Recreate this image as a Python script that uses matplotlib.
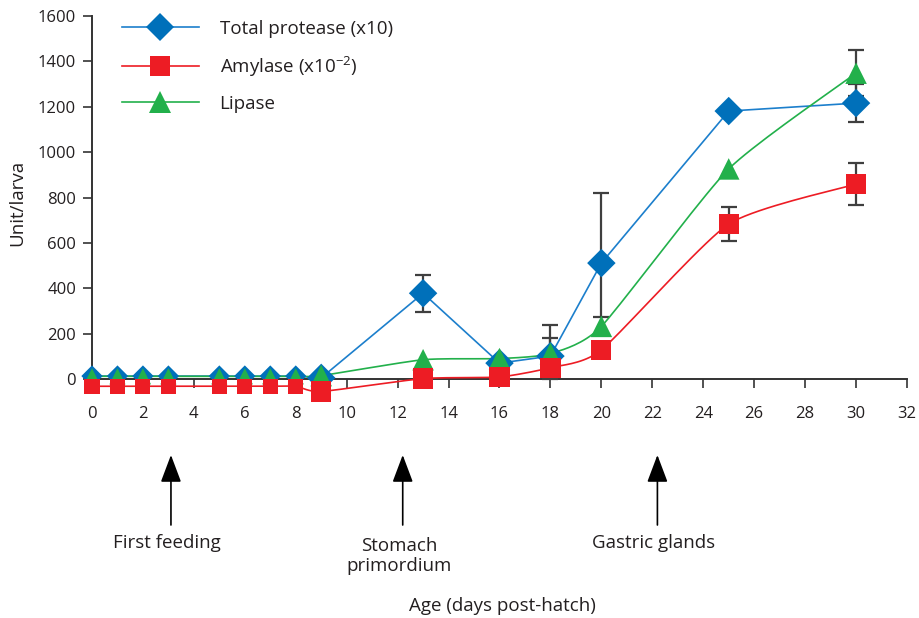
import numpy as np
import matplotlib
matplotlib.use("Agg")
import matplotlib.pyplot as plt
from matplotlib.lines import Line2D

plt.rcParams['font.family'] = ['Open Sans', 'DejaVu Sans']
plt.rcParams['mathtext.fontset'] = 'custom'
plt.rcParams['mathtext.rm'] = 'Open Sans'

# ---------------- data ----------------
days = [0, 1, 2, 3, 5, 6, 7, 8, 9, 13, 16, 18, 20, 25, 30]
protease = [13, 13, 13, 13, 13, 13, 13, 13, 5, 378, 70, 101, 511, 1181, 1216]
amylase = [-32, -32, -32, -32, -32, -32, -32, -32, -55, 2, 9, 50, 128, 683, 859]
lipase = [12, 12, 12, 12, 12, 12, 12, 12, 15, 85, 90, 112, 232, 926, 1348]

prot_err_days = [13, 18, 20, 30]
prot_err_lo = [84, 100, 238, 83]
prot_err_hi = [80, 135, 310, 83]
amy_err_days = [25, 30]
amy_err = [73, 93]
lip_err_days = [18, 30]
lip_err = [70, 102]

xticks = list(range(0, 33, 2))
yticks = list(range(0, 1601, 200))

events_x = [3.1, 12.2, 22.2]
events_lbl = ["First feeding", "Stomach\nprimordium", "Gastric glands"]

legend_labels = ["Total protease (x10)", r"Amylase (x10$^{\mathregular{-2}}$)", "Lipase"]

# ---------------- style ----------------
BLUE_M = '#0070BA'
BLUE_L = '#1C7FCC'
RED = '#ED1C24'
GREEN = '#22B04B'
TXT = '#231F20'
ERR = '#3F3F3F'
FS = 13.5


def smooth_path(xs, ys, n=20, k=10.0):
    """Mildly smoothed line through the given points (Bezier, Catmull-Rom style)."""
    xs = np.asarray(xs, float)
    ys = np.asarray(ys, float)
    px = np.concatenate([[xs[0]], xs, [xs[-1]]])
    py = np.concatenate([[ys[0]], ys, [ys[-1]]])
    outx, outy = [], []
    t = np.linspace(0, 1, n)
    for i in range(1, len(px) - 2):
        p0x, p1x, p2x, p3x = px[i-1], px[i], px[i+1], px[i+2]
        p0y, p1y, p2y, p3y = py[i-1], py[i], py[i+1], py[i+2]
        c1x = p1x + (p2x - p0x) / k
        c1y = p1y + (p2y - p0y) / k
        c2x = p2x - (p3x - p1x) / k
        c2y = p2y - (p3y - p1y) / k
        bx = (1-t)**3*p1x + 3*(1-t)**2*t*c1x + 3*(1-t)*t**2*c2x + t**3*p2x
        by = (1-t)**3*p1y + 3*(1-t)**2*t*c1y + 3*(1-t)*t**2*c2y + t**3*p2y
        outx.extend(bx)
        outy.extend(by)
    return np.array(outx), np.array(outy)


fig = plt.figure(figsize=(9.2, 6.18), dpi=100)
ax = fig.add_axes([92/920, 1-401.7/618, 815/920, (401.7-16)/618])

ax.set_xlim(0, 32)
ax.set_ylim(-100, 1600)

x = np.array(days)
small = x < 9


def sizes(big):
    return np.where(small, (big*0.75)**2, big**2)


# error bars (behind markers)
ekw = dict(fmt='none', ecolor=ERR, elinewidth=1.6, capsize=5.5, capthick=1.6,
           zorder=2, clip_on=False)
ax.errorbar(prot_err_days, [protease[days.index(d)] for d in prot_err_days],
            yerr=[prot_err_lo, prot_err_hi], **ekw)
ax.errorbar(amy_err_days, [amylase[days.index(d)] for d in amy_err_days],
            yerr=amy_err, **ekw)
ax.errorbar(lip_err_days, [lipase[days.index(d)] for d in lip_err_days],
            yerr=lip_err, **ekw)

# lines
ax.plot(days, protease, color=BLUE_L, lw=1.2, zorder=3, clip_on=False)
lx, ly = smooth_path(days, lipase)
ax.plot(lx, ly, color=GREEN, lw=1.2, zorder=3, clip_on=False)
axx, ayy = smooth_path(days, amylase)
ax.plot(axx, ayy, color=RED, lw=1.2, zorder=3, clip_on=False)

# markers
ax.scatter(days, protease, marker='D', s=sizes(14.5), color=BLUE_M, linewidths=0, zorder=4, clip_on=False)
ax.scatter(days, lipase, marker='^', s=sizes(15.5), color=GREEN, linewidths=0, zorder=5, clip_on=False)
ax.scatter(days, amylase, marker='s', s=sizes(14.5), color=RED, linewidths=0, zorder=6, clip_on=False)

# axes styling
for sp in ['top', 'right']:
    ax.spines[sp].set_visible(False)
ax.spines['bottom'].set_position(('data', 0))
ax.spines['left'].set_bounds(0, 1600)
for sp in ['bottom', 'left']:
    ax.spines[sp].set_color('#333333')
    ax.spines[sp].set_linewidth(1.4)
    ax.spines[sp].set_zorder(1)

ax.set_xticks(xticks)
ax.set_yticks(yticks)
ax.tick_params(axis='x', direction='out', length=6.5, width=1.2, color='#333333',
               labelsize=12, labelcolor=TXT, pad=13)
ax.tick_params(axis='y', direction='out', length=6.5, width=1.2, color='#333333',
               labelsize=12, labelcolor=TXT, pad=5)

fig.text(17/920, 1-203/618, "Unit/larva", rotation=90, ha='center', va='center',
         fontsize=FS, color=TXT)
fig.text(502/920, 1-606/618, "Age (days post-hatch)", ha='center', va='center',
         fontsize=FS, color=TXT)

# event arrows
label_y = [1-543/618, 1-556/618, 1-543/618]
for ex, lbl, lyy in zip(events_x, events_lbl, label_y):
    ax.annotate("", xy=(ex, 1-455/618), xycoords=('data', 'figure fraction'),
                xytext=(ex, 1-525/618), textcoords=('data', 'figure fraction'),
                arrowprops=dict(arrowstyle='-|>,head_length=0.85,head_width=0.32',
                                mutation_scale=20, color='black', lw=1.2,
                                shrinkA=0, shrinkB=0))
    ax.annotate(lbl, xy=(ex - 0.15, lyy), xycoords=('data', 'figure fraction'),
                ha='center', va='center', fontsize=FS, color=TXT,
                linespacing=1.15, annotation_clip=False)

# legend
handles = [
    Line2D([], [], color=BLUE_L, lw=1.2, marker='D', markersize=14.5, markerfacecolor=BLUE_M, markeredgewidth=0),
    Line2D([], [], color=RED, lw=1.2, marker='s', markersize=14.5, markerfacecolor=RED, markeredgewidth=0),
    Line2D([], [], color=GREEN, lw=1.2, marker='^', markersize=15.5, markerfacecolor=GREEN, markeredgewidth=0),
]
leg = ax.legend(handles, legend_labels, loc='upper left',
                bbox_to_anchor=(122/920, 1-20/618), bbox_transform=fig.transFigure,
                frameon=False, fontsize=FS, handlelength=4.1, handletextpad=1.1,
                labelspacing=0.85, borderpad=0, borderaxespad=0)
for t in leg.get_texts():
    t.set_color(TXT)

fig.savefig("out.png", dpi=100)
